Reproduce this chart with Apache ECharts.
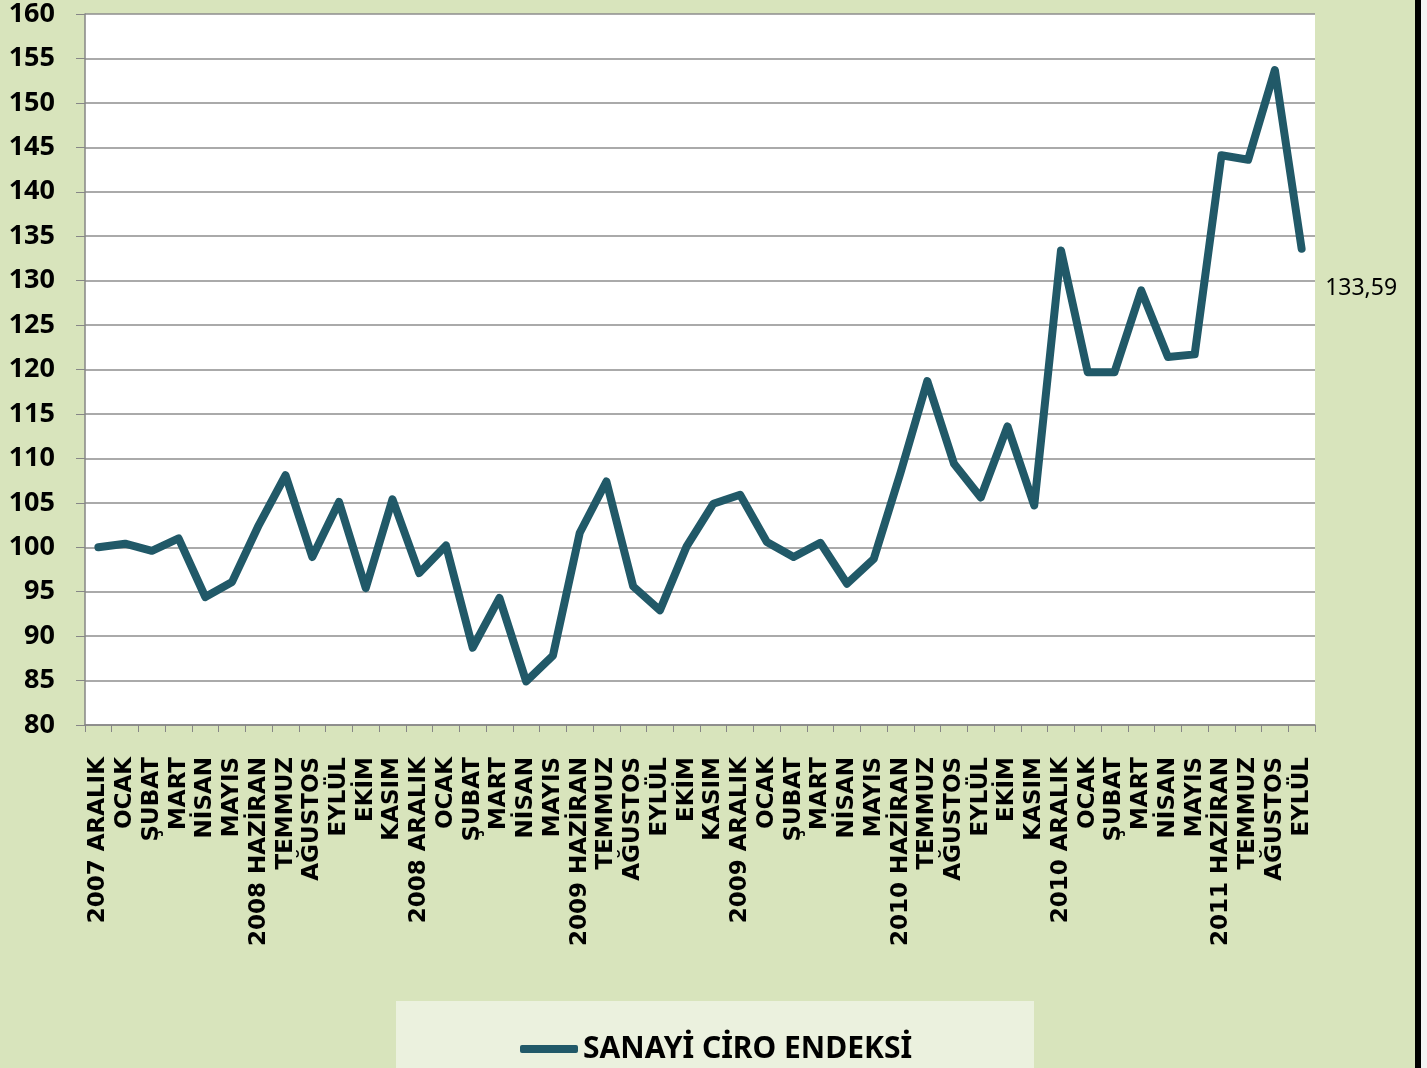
<!DOCTYPE html>
<html>
<head>
<meta charset="utf-8">
<script src="https://cdn.jsdelivr.net/npm/echarts@6/dist/echarts.min.js"></script>
<style>
  html, body { margin: 0; padding: 0; background: #d8e4bc; }
  #chart { width: 1427px; height: 1068px; }
</style>
</head>
<body>
<div id="chart"></div>
<script>
// ay etiketleri
var months = [
  '2007 ARALIK', 'OCAK', 'ŞUBAT', 'MART', 'NİSAN', 'MAYIS',
  '2008 HAZİRAN', 'TEMMUZ', 'AĞUSTOS', 'EYLÜL', 'EKİM', 'KASIM',
  '2008 ARALIK', 'OCAK', 'ŞUBAT', 'MART', 'NİSAN', 'MAYIS',
  '2009 HAZİRAN', 'TEMMUZ', 'AĞUSTOS', 'EYLÜL', 'EKİM', 'KASIM',
  '2009 ARALIK', 'OCAK', 'ŞUBAT', 'MART', 'NİSAN', 'MAYIS',
  '2010 HAZİRAN', 'TEMMUZ', 'AĞUSTOS', 'EYLÜL', 'EKİM', 'KASIM',
  '2010 ARALIK', 'OCAK', 'ŞUBAT', 'MART', 'NİSAN', 'MAYIS',
  '2011 HAZİRAN', 'TEMMUZ', 'AĞUSTOS', 'EYLÜL'
];
// sanayi ciro endeksi
var ciroValues = [
  100.0, 100.4, 99.6, 101.0, 94.4, 96.1,
  102.5, 108.1, 98.9, 105.1, 95.4, 105.4,
  97.1, 100.2, 88.7, 94.3, 84.9, 87.8,
  101.6, 107.4, 95.6, 92.9, 100.1, 104.9,
  105.9, 100.6, 98.9, 100.5, 95.9, 98.7,
  108.4, 118.7, 109.4, 105.6, 113.6, 104.7,
  133.4, 119.7, 119.7, 128.9, 121.4, 121.7,
  144.1, 143.6, 153.7, 133.59
];
var seriesName = 'SANAYİ CİRO ENDEKSİ';
var lineColor = '#215968';

var chart = echarts.init(document.getElementById('chart'));

// sadece son noktaya etiket
var lineData = ciroValues.map(function (v, i) {
  if (i === ciroValues.length - 1) {
    return {
      value: v,
      label: {
        show: true,
        position: 'right',
        distance: 5,
        offset: [18, 40],
        color: '#000',
        fontFamily: 'Noto Sans',
        fontSize: 23,
        formatter: function (p) { return String(p.value).replace('.', ','); }
      }
    };
  }
  return v;
});

chart.setOption({
  backgroundColor: '#d8e4bc',
  animation: false,
  graphic: [
    { type: 'rect', z: -10, shape: { x: 396, y: 1001, width: 638, height: 67 }, style: { fill: '#ebf1de' } },
    { type: 'rect', z: 10, shape: { x: 1415, y: 0, width: 6, height: 1068 }, style: { fill: '#000' } },
    { type: 'rect', z: 10, shape: { x: 1421, y: 0, width: 6, height: 1068 }, style: { fill: '#f4f4f4' } }
  ],
  grid: {
    left: 85, right: 112, top: 14, bottom: 343,
    show: true, backgroundColor: '#fff', borderWidth: 0
  },
  legend: {
    left: 520, top: 1034, padding: 0,
    icon: 'roundRect', itemWidth: 58, itemHeight: 8,
    data: [seriesName],
    textStyle: { fontFamily: 'Noto Sans', fontWeight: 'bold', fontSize: 30, lineHeight: 30, color: '#000' }
  },
  xAxis: {
    type: 'category',
    data: months,
    boundaryGap: true,
    axisLine: { lineStyle: { color: '#868686', width: 1.5 } },
    axisTick: { show: true, length: 7, interval: 0, lineStyle: { color: '#868686' } },
    axisLabel: {
      interval: 0, rotate: 90, margin: 32,
      color: '#000', fontFamily: 'DejaVu Sans', fontWeight: 'bold', fontSize: 23
    },
    splitLine: { show: false }
  },
  yAxis: {
    type: 'value',
    min: 80, max: 160, interval: 5,
    axisLine: { show: true, lineStyle: { color: '#868686', width: 1.5 } },
    axisTick: { show: true, length: 9, lineStyle: { color: '#868686' } },
    axisLabel: {
      margin: 30, color: '#000',
      fontFamily: 'Noto Sans', fontWeight: 'bold', fontSize: 27
    },
    splitLine: { lineStyle: { color: '#8e8e8e', width: 1.5 } }
  },
  series: [{
    name: seriesName,
    type: 'line',
    data: lineData,
    symbol: 'circle',
    symbolSize: 1,
    showSymbol: true,
    itemStyle: { color: lineColor },
    lineStyle: { color: lineColor, width: 8, cap: 'round', join: 'round' },
    label: { show: false }
  }]
});
</script>
</body>
</html>
